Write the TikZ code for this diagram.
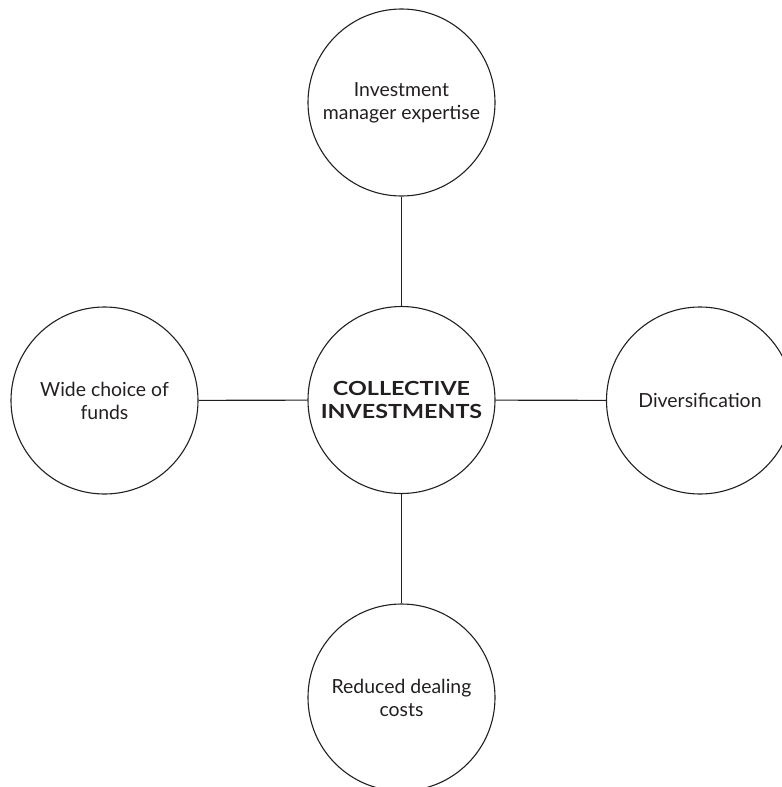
\documentclass[tikz,border=0pt]{standalone}
\usepackage{fontspec}
\setmainfont{Lato}
\definecolor{ink}{HTML}{231F20}
\begin{document}
\begin{tikzpicture}[x=1bp,y=-1bp,
  bubble/.style={circle,draw=ink,line width=1.1bp,minimum size=187bp,inner sep=0pt,
    align=center,text=ink,font=\fontsize{19.5}{23}\selectfont},
  hub/.style={bubble,font=\fontsize{19.5}{23}\selectfont\bfseries\addfontfeature{FakeStretch=1.2}},
  link/.style={draw=ink,line width=1.1bp}]
\useasboundingbox (0,0) rectangle (782,787);
\node[hub] (c) at (401.5,400) {COLLECTIVE\\INVESTMENTS};
\node[bubble] (t) at (401.5,102.5) {Investment\\manager expertise};
\node[bubble] (l) at (104.5,400.5) {Wide choice of\\funds};
\node[bubble] (r) at (700,400.5) {Diversification};
\node[bubble] (b) at (401.5,697.5) {Reduced dealing\\costs};
\draw[link] (c) -- (t);
\draw[link] (c) -- (l);
\draw[link] (c) -- (r);
\draw[link] (c) -- (b);
\end{tikzpicture}
\end{document}
